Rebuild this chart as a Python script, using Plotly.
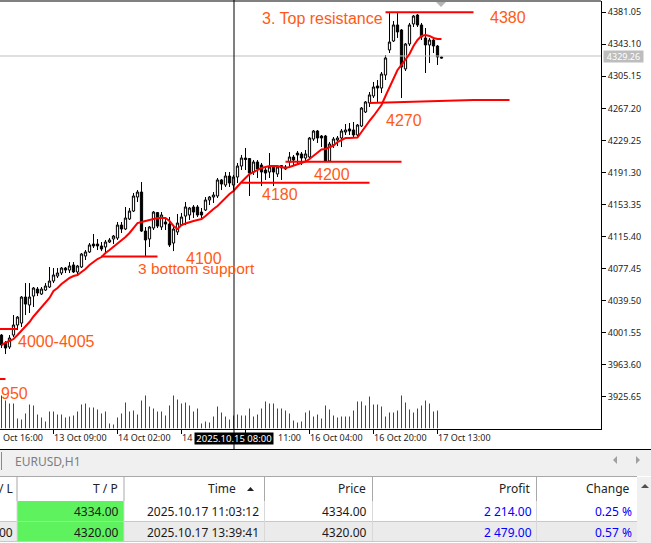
import plotly.graph_objects as go

# Candle data (one hourly bar per entry)
opens = [3998.7, 3989.2, 3984.5, 3998.7, 4010.6, 4012.9, 4043.7, 4034.3, 4044.9, 4053.2,
         4047.3, 4052.0, 4055.6, 4062.7, 4068.6, 4072.2, 4078.1, 4075.7, 4081.7, 4073.4,
         4079.3, 4092.3, 4097.1, 4106.5, 4106.5, 4104.2, 4103.0, 4108.9, 4112.5, 4113.6,
         4129.0, 4124.3, 4136.2, 4145.6, 4162.2, 4168.1, 4121.9, 4112.5, 4125.5, 4143.8,
         4126.7, 4132.6, 4130.2, 4107.7, 4120.8, 4129.0, 4139.7, 4140.9, 4150.4, 4150.4,
         4144.4, 4146.8, 4158.7, 4162.2, 4163.4, 4182.4, 4176.4, 4187.1, 4176.4, 4185.9,
         4198.9, 4208.4, 4207.8, 4191.8, 4203.7, 4200.1, 4194.2, 4191.8, 4198.3, 4189.5,
         4196.6, 4197.8, 4203.7, 4209.6, 4214.3, 4213.2, 4208.4, 4209.6, 4230.9, 4240.4,
         4234.5, 4234.5, 4204.9, 4223.8, 4229.7, 4232.1, 4239.2, 4242.8, 4241.6, 4235.7,
         4246.3, 4262.9, 4273.6, 4281.9, 4293.7, 4291.3, 4306.7, 4336.4, 4347.0, 4366.0,
         4360.1, 4313.9, 4343.5, 4367.2, 4377.8, 4366.0, 4350.6, 4342.3, 4348.2, 4341.1,
         4328.1]
highs = [3999.9, 3991.6, 3998.7, 4022.4, 4021.2, 4044.9, 4060.3, 4060.3, 4055.6, 4055.6,
         4055.6, 4060.3, 4079.3, 4078.1, 4078.1, 4079.3, 4079.3, 4085.2, 4085.2, 4081.7,
         4095.9, 4099.4, 4107.7, 4118.4, 4112.5, 4108.9, 4111.3, 4113.6, 4117.2, 4132.6,
         4132.6, 4150.4, 4149.2, 4167.0, 4170.5, 4180.0, 4126.7, 4127.8, 4145.6, 4144.4,
         4144.4, 4137.3, 4138.5, 4129.0, 4142.1, 4143.3, 4156.3, 4150.4, 4152.7, 4152.7,
         4149.2, 4162.2, 4163.4, 4168.1, 4184.7, 4183.5, 4191.8, 4191.8, 4188.3, 4202.5,
         4212.0, 4220.3, 4208.4, 4206.0, 4206.0, 4202.5, 4196.6, 4214.3, 4198.9, 4198.9,
         4200.1, 4200.1, 4215.5, 4212.0, 4216.7, 4215.5, 4217.9, 4233.3, 4241.6, 4241.6,
         4235.7, 4235.7, 4227.4, 4233.3, 4234.5, 4242.8, 4248.7, 4249.9, 4251.1, 4248.7,
         4268.8, 4275.9, 4286.6, 4298.5, 4300.8, 4310.3, 4330.4, 4381.4, 4370.7, 4380.2,
         4361.2, 4344.6, 4368.4, 4377.8, 4379.0, 4368.4, 4362.4, 4350.6, 4350.6, 4342.3,
         4328.7]
lows = [3983.3, 3976.2, 3982.2, 3996.3, 4004.6, 4008.2, 4022.4, 4024.8, 4031.9, 4044.9,
        4046.1, 4050.9, 4054.4, 4060.3, 4066.3, 4069.8, 4072.2, 4072.2, 4072.2, 4071.0,
        4078.1, 4087.6, 4095.9, 4101.8, 4099.4, 4098.2, 4094.7, 4107.7, 4106.5, 4111.3,
        4119.6, 4123.1, 4135.0, 4144.4, 4156.3, 4120.8, 4092.3, 4103.0, 4123.1, 4125.5,
        4123.1, 4123.1, 4103.0, 4098.2, 4117.2, 4127.8, 4129.0, 4135.0, 4137.3, 4138.5,
        4137.3, 4145.6, 4152.7, 4155.1, 4161.0, 4170.5, 4174.1, 4174.1, 4170.5, 4178.8,
        4194.2, 4194.2, 4163.4, 4188.3, 4184.7, 4175.2, 4182.4, 4184.7, 4175.2, 4185.9,
        4182.4, 4194.2, 4197.8, 4200.1, 4200.1, 4200.1, 4204.9, 4208.4, 4228.6, 4226.2,
        4221.4, 4204.3, 4203.7, 4220.3, 4222.6, 4221.4, 4235.7, 4235.7, 4232.1, 4233.3,
        4245.1, 4261.7, 4268.8, 4279.5, 4274.8, 4285.4, 4300.8, 4332.8, 4345.8, 4350.6,
        4279.5, 4311.5, 4341.1, 4363.6, 4363.6, 4348.2, 4309.1, 4321.0, 4332.8, 4318.6,
        4326.3]
closes = [3986.9, 3983.3, 3995.2, 4010.6, 4020.0, 4043.7, 4035.4, 4043.7, 4054.4, 4048.5,
          4053.2, 4056.8, 4062.7, 4069.8, 4072.2, 4078.1, 4075.7, 4080.5, 4073.4, 4080.5,
          4094.7, 4097.1, 4105.4, 4104.2, 4104.2, 4100.6, 4108.9, 4111.3, 4116.0, 4129.0,
          4124.3, 4137.3, 4145.6, 4163.4, 4168.1, 4121.9, 4111.3, 4126.7, 4144.4, 4127.8,
          4140.9, 4130.2, 4105.4, 4124.3, 4131.4, 4138.5, 4150.4, 4149.2, 4144.4, 4140.9,
          4140.9, 4158.7, 4162.2, 4164.6, 4182.4, 4177.6, 4187.1, 4178.8, 4185.9, 4198.9,
          4208.4, 4206.6, 4190.6, 4203.7, 4195.4, 4191.8, 4190.6, 4197.8, 4191.8, 4197.8,
          4199.5, 4195.4, 4209.6, 4206.0, 4212.0, 4208.4, 4213.2, 4232.1, 4240.4, 4232.1,
          4232.1, 4204.9, 4225.0, 4230.9, 4232.1, 4240.4, 4241.6, 4240.4, 4235.7, 4247.5,
          4267.6, 4274.8, 4283.1, 4292.5, 4291.3, 4307.9, 4326.9, 4345.8, 4366.0, 4357.7,
          4316.2, 4343.5, 4366.0, 4376.6, 4366.0, 4351.8, 4342.3, 4348.2, 4341.1, 4328.1,
          4326.9]
moving_avg = [3986.9, 3989.8, 3991.6, 3994.0, 3998.7, 4003.5, 4008.2, 4014.1, 4020.7, 4026.0,
              4031.9, 4036.6, 4042.6, 4050.9, 4054.4, 4059.1, 4062.7, 4066.3, 4068.6, 4069.8,
              4073.4, 4076.9, 4081.7, 4085.2, 4088.8, 4091.1, 4095.9, 4099.4, 4103.0, 4106.5,
              4110.1, 4114.8, 4119.6, 4125.5, 4131.4, 4132.6, 4133.8, 4135.0, 4136.2, 4137.3,
              4137.3, 4137.3, 4133.8, 4127.9, 4124.3, 4129.0, 4130.8, 4132.6, 4133.8, 4135.0,
              4136.2, 4139.7, 4144.4, 4148.0, 4151.5, 4156.3, 4161.0, 4165.8, 4169.3, 4175.2,
              4180.0, 4184.7, 4189.5, 4191.8, 4194.2, 4196.6, 4197.8, 4198.9, 4198.9, 4198.9,
              4197.8, 4196.6, 4197.8, 4199.5, 4201.3, 4202.5, 4204.3, 4207.2, 4210.8, 4214.9,
              4218.5, 4219.1, 4221.4, 4223.2, 4227.4, 4229.7, 4232.1, 4232.1, 4232.1, 4232.7,
              4239.2, 4246.3, 4252.3, 4258.2, 4264.1, 4271.2, 4281.9, 4292.5, 4303.2, 4312.7,
              4318.6, 4324.5, 4331.6, 4341.1, 4348.2, 4353.0, 4354.1, 4353.0, 4350.6, 4349.4,
              4349.4]
volumes = [33, 28, 25, 25, 10, 9, 15, 24, 23, 14, 11, 7, 17, 17, 14, 14, 11, 12, 13, 17,
           24, 25, 21, 21, 19, 15, 17, 5, 4, 11, 15, 26, 17, 18, 14, 28, 33, 22, 20, 17,
           17, 13, 23, 33, 29, 25, 26, 23, 17, 20, 5, 7, 6, 12, 22, 16, 12, 9, 13, 14,
           13, 13, 20, 12, 14, 20, 27, 25, 25, 20, 20, 18, 15, 8, 6, 7, 16, 18, 12, 14,
           10, 23, 19, 13, 11, 12, 12, 12, 18, 27, 27, 23, 32, 24, 24, 22, 12, 16, 16, 18,
           33, 26, 19, 16, 20, 23, 28, 25, 17, 18, 0]
bar_index = list(range(len(opens)))

# Hand drawn support / resistance lines: (bar index, price)
top_x = [96, 118]
top_y = [4381.0, 4381.0]
support_4270_x = [92, 101, 110, 118, 127]
support_4270_y = [4273.6, 4274.8, 4276.0, 4277.1, 4277.1]
support_4200_x = [71, 100]
support_4200_y = [4204.0, 4204.0]
support_4180_x = [60, 92]
support_4180_y = [4179.0, 4179.0]
support_4100_x = [25, 39]
support_4100_y = [4091.6, 4091.6]
support_4000_x = [-0.4, 4]
support_4000_y = [4005.8, 4005.8]
support_3950_x = [-0.4, 1]
support_3950_y = [3946.6, 3946.6]

current_price = 4329.26
price_ticks = [4381.05, 4343.10, 4305.15, 4267.20, 4229.25, 4191.30, 4153.35,
               4115.40, 4077.45, 4039.50, 4001.55, 3963.60, 3925.65]
price_labels = ['4381.05', '4343.10', '4305.15', '4267.20', '4229.25', '4191.30', '4153.35',
                '4115.40', '4077.45', '4039.50', '4001.55', '3963.60', '3925.65']
time_ticks = [13, 29, 45, 61, 77, 93, 109]
# what stays readable of the time scale, the crosshair tag hides the rest
time_labels = ['13 Oct 09:00', '14 Oct 02:00', '14', '', '16 Oct 04:00', '16 Oct 20:00', '17 Oct 13:00']

# Trade table below the chart
table_header = ['/ L', 'T / P', 'Time', 'Price', 'Profit', 'Change']
row_one = ['', '4334.00', '2025.10.17 11:03:12', '4334.00', '2 214.00', '0.25 %']
row_two = ['00', '4320.00', '2025.10.17 13:39:41', '4320.00', '2 479.00', '0.57 %']
column_right = [13.5, 120, 260, 368, 533, 633]
header_right = [13.5, 119, 237, 367, 531, 631]
column_lines = [17, 124, 264.5, 372.5, 536.5]

W, H = 651, 543
TICK_FONT = dict(family='Noto Sans', size=9, color='#1c1c1c')
TABLE_FONT = 'Noto Sans'
NOTE_COLOR = '#ff5a14'


def px(x):
    return x / W


def py(y):
    return 1 - y / H


def label(fig, x, y, text, anchor='left', font=None, **kw):
    fig.add_annotation(xref='paper', yref='paper', x=px(x), y=py(y), text=text,
                       xanchor=anchor, yanchor='middle', showarrow=False,
                       font=font or TICK_FONT, borderpad=0, **kw)


def rect(fig, x0, y0, x1, y1, color):
    fig.add_shape(type='rect', xref='paper', yref='paper', x0=px(x0), y0=py(y0),
                  x1=px(x1), y1=py(y1), fillcolor=color, line_width=0, layer='below')


def hline(fig, x0, x1, y, color, width=1):
    fig.add_shape(type='line', xref='paper', yref='paper', x0=px(x0), x1=px(x1),
                  y0=py(y), y1=py(y), line=dict(color=color, width=width))


def vline(fig, x, y0, y1, color, width=1):
    fig.add_shape(type='line', xref='paper', yref='paper', x0=px(x), x1=px(x),
                  y0=py(y0), y1=py(y1), line=dict(color=color, width=width))


def triangle(fig, points, color):
    path = 'M ' + ' L '.join(f'{px(a):.5f} {py(b):.5f}' for a, b in points) + ' Z'
    fig.add_shape(type='path', xref='paper', yref='paper', path=path,
                  fillcolor=color, line_width=0)


fig = go.Figure()

# volume sticks as one sided error bars, a 1px go.Bar comes out washed out
fig.add_trace(go.Scatter(x=bar_index, y=volumes, yaxis='y2', mode='markers',
                         marker=dict(size=1, opacity=0),
                         error_y=dict(type='data', symmetric=False, array=[0] * len(volumes),
                                      arrayminus=volumes, width=0, thickness=1, color='#007800')))
fig.add_trace(go.Scatter(x=[-0.375, 149.875], y=[current_price, current_price], mode='lines',
                         line=dict(color='#c0c0c0', width=1)))
fig.add_trace(go.Candlestick(x=bar_index, open=opens, high=highs, low=lows, close=closes,
                             increasing=dict(fillcolor='white', line=dict(color='black', width=1)),
                             decreasing=dict(fillcolor='black', line=dict(color='black', width=1)),
                             whiskerwidth=0))
fig.add_trace(go.Scatter(x=bar_index, y=moving_avg, mode='lines',
                         line=dict(color='#ff0000', width=2)))
for lx, ly in [(top_x, top_y), (support_4270_x, support_4270_y), (support_4200_x, support_4200_y),
               (support_4180_x, support_4180_y), (support_4100_x, support_4100_y),
               (support_4000_x, support_4000_y), (support_3950_x, support_3950_y)]:
    fig.add_trace(go.Scatter(x=lx, y=ly, mode='lines', line=dict(color='#ff0000', width=2)))

fig.update_layout(
    width=W, height=H,
    margin=dict(l=0, r=0, t=0, b=0),
    paper_bgcolor='white', plot_bgcolor='white',
    showlegend=False,
    boxgap=0.2,
    xaxis=dict(domain=[0, 601 / W], range=[-0.375, 149.875], rangeslider=dict(visible=False),
               tickmode='array', tickvals=time_ticks, showticklabels=False,
               ticks='outside', ticklen=4, tickcolor='black', showgrid=False, zeroline=False,
               showline=True, linecolor='black', linewidth=1),
    yaxis=dict(domain=[py(428.5), py(1)], range=[3888.0, 4394.4], side='right',
               tickmode='array', tickvals=price_ticks, ticktext=price_labels,
               ticks='outside', ticklen=4, tickcolor='black', tickfont=TICK_FONT,
               showgrid=False, zeroline=False, showline=True, linecolor='black', linewidth=1),
    yaxis2=dict(domain=[py(428.5), py(1)], range=[0, 427.5], overlaying='y', visible=False),
)

# Chart frame, crosshair, shift marker
hline(fig, 0, 601, 1, 'black')
vline(fig, 234, 0, 449, 'black')
hline(fig, 0, W, 449.5, 'black')
triangle(fig, [(436, 2), (446, 2), (441, 7)], '#b4b4b4')

# Notes typed on the chart
note_font = dict(family='Liberation Sans', size=16, color=NOTE_COLOR)
label(fig, 261, 18, '3. Top resistance', font=note_font)
label(fig, 489, 17, '4380', font=note_font)
label(fig, 385, 120, '4270', font=note_font)
label(fig, 313, 174, '4200', font=note_font)
label(fig, 261, 194, '4180', font=note_font)
label(fig, 185, 258, '4100', font=note_font)
label(fig, 137, 268, '3 bottom support', font=dict(family='Liberation Sans', size=15.5, color=NOTE_COLOR))
label(fig, 17, 342, '4000-4005', font=note_font)
label(fig, 0, 393, '950', font=note_font)

# Time scale labels start right of their tick
label(fig, 2, 437, 'Oct 16:00')
for idx, text in zip(time_ticks, time_labels):
    if text:
        label(fig, 4 * idx + 0.5, 437, text)
label(fig, 277, 437, '11:00')
label(fig, 234, 438, '2025.10.15 08:00', anchor='center',
      font=dict(family='Noto Sans', size=9.5, color='white'),
      bgcolor='black', width=78, height=11)

# Current price tag on the right scale
label(fig, 623.5, 56.5, '4329.26', anchor='center',
      font=dict(family='Noto Sans', size=9, color='white'),
      bgcolor='#bdbdbd', width=39, height=11)

# Toolbox strip and table
rect(fig, 0, 450, W, 476, '#f0f0f0')
rect(fig, 637, 477, W, H, '#f0f0f0')
rect(fig, 0, 522, 637, 541, '#ebebeb')
rect(fig, 17, 501, 124, 541, '#5ef25e')
vline(fig, 1.5, 452, 470, '#8a8a8a')
label(fig, 14, 461, 'EURUSD,H1', font=dict(family=TABLE_FONT, size=12, color='#7a7f85'))
triangle(fig, [(617, 456), (617, 464), (613, 460)], '#a0a0a0')
triangle(fig, [(636, 456), (636, 464), (640, 460)], '#a0a0a0')
triangle(fig, [(641, 488), (649, 488), (645, 484)], '#505050')
triangle(fig, [(247, 491), (254, 491), (250.5, 487)], '#222222')
hline(fig, 0, 637, 476.5, '#a8a8a8')
hline(fig, 0, 637, 521.5, '#c8c8c8')
hline(fig, 0, 637, 541.5, '#c8c8c8')
for cx in column_lines:
    vline(fig, cx, 477, 501, '#a8a8a8')
    vline(fig, cx, 501, 541, '#d8d8d8')

head_font = dict(family=TABLE_FONT, size=12, color='#222222')
cell_font = dict(family=TABLE_FONT, size=12, color='#1a1a1a')
blue_font = dict(family=TABLE_FONT, size=12, color='#0000ff')
for col, right in enumerate(column_right):
    label(fig, header_right[col], 488.5, table_header[col], anchor='right', font=head_font)
    for row_y, row in [(511.5, row_one), (532, row_two)]:
        if row[col]:
            label(fig, right, row_y, row[col], anchor='right',
                  font=blue_font if col >= 4 else cell_font)

# page margin off, the picture is exactly one window big
fig.write_html("out.html", config={'displayModeBar': False},
               post_script="document.body.style.margin='0';")
